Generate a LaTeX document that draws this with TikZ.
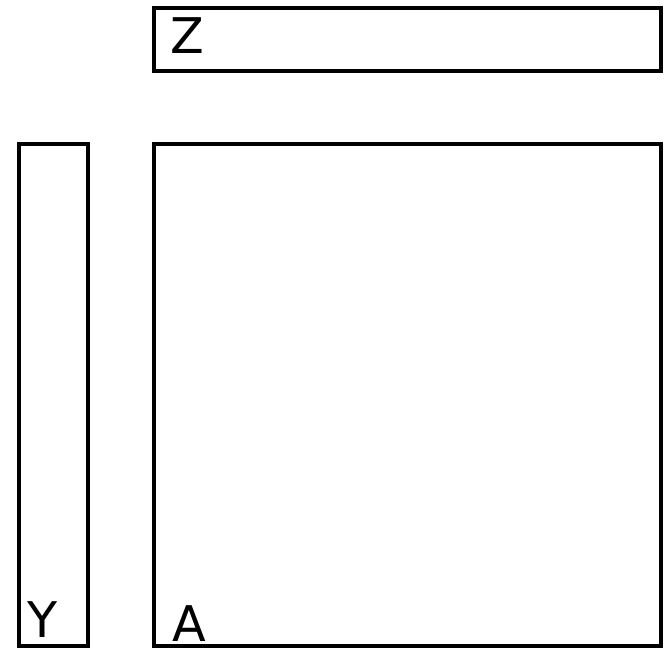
\documentclass[tikz,border=0pt]{standalone}
\usepackage{fontspec}
\setmainfont{DejaVu Sans}
\usetikzlibrary{positioning}

\begin{document}
\begin{tikzpicture}[every node/.style={font=\fontsize{28}{33}\selectfont},
  blockbox/.style={draw, line width=2.5pt, inner sep=0pt, outer sep=0pt},
  letter/.style={inner sep=0pt, anchor=base west}]
  \useasboundingbox (0,0) rectangle (13.38,12.98);
  \node[blockbox, minimum width=10.14cm, minimum height=1.26cm] (zrow) at (8.15,12.19) {};
  \node[blockbox, minimum width=10.14cm, minimum height=10.04cm] (amat) at (8.15,5.08) {};
  \node[blockbox, minimum width=1.38cm, minimum height=10.04cm] (ycol) at (1.07,5.08) {};
  \node[letter] (zlab) at (3.40,11.90) {Z};
  \node[letter] (alab) at (3.44,0.15) {A};
  \node[letter] (ylab) at (0.54,0.23) {Y};
\end{tikzpicture}
\end{document}
